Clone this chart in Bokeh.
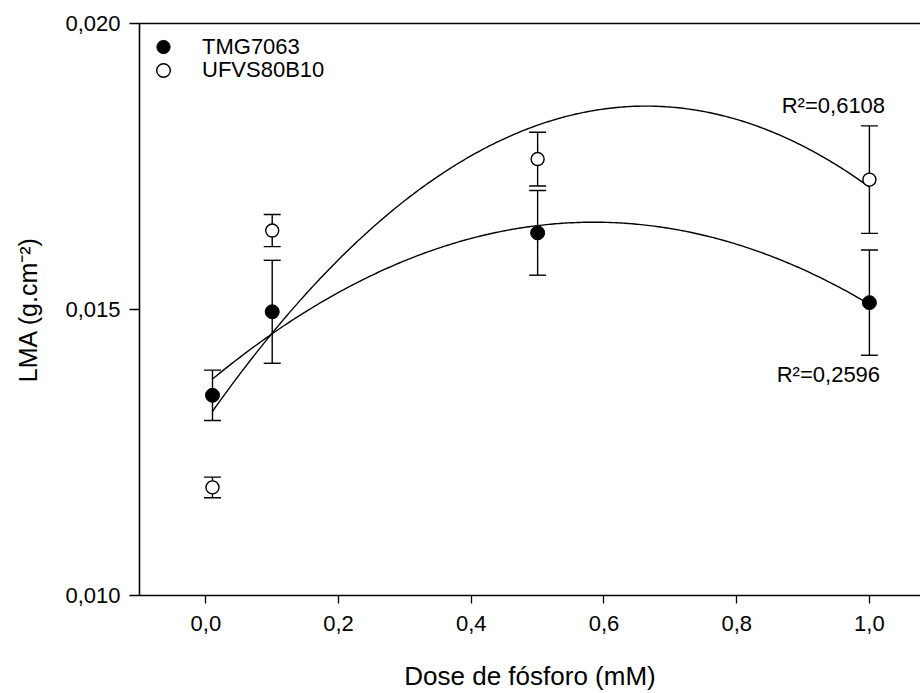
import numpy as np
from bokeh.plotting import figure
from bokeh.models import (ColumnDataSource, Whisker, TeeHead, FixedTicker, CustomJSTickFormatter,
                          LinearAxis, Legend, LegendItem, Range1d, Label)
from bokeh.embed import file_html
from bokeh.resources import INLINE

# ---- data ----
dose = [0.01, 0.1, 0.5, 1.0]
tmg_mean = [0.01350, 0.01496, 0.01634, 0.01512]
tmg_err = [0.00044, 0.00090, 0.00074, 0.00092]
ufv_mean = [0.01189, 0.01638, 0.01763, 0.01727]
ufv_err = [0.00018, 0.00028, 0.00047, 0.00094]
series_names = ["TMG7063", "UFVS80B10"]
r2_labels = ["R\u00b2=0,2596", "R\u00b2=0,6108"]
x_ticks = [0.0, 0.2, 0.4, 0.6, 0.8, 1.0]
y_ticks = [0.010, 0.015, 0.020]

FONT = "Liberation Sans"

p = figure(width=920, height=693, output_backend="svg", toolbar_location=None,
           x_range=Range1d(-0.1, 1.077), y_range=Range1d(0.010, 0.020),
           min_border_left=139, min_border_right=0, min_border_top=23, min_border_bottom=96)
p.outline_line_color = None
p.xgrid.visible = False
p.ygrid.visible = False
p.background_fill_color = "white"
p.border_fill_color = "white"

for ax, ticks, fmt in ((p.xaxis[0], x_ticks, "return tick.toFixed(1).replace('.', ',')"),
                       (p.yaxis[0], y_ticks, "return tick.toFixed(3).replace('.', ',')")):
    ax.ticker = FixedTicker(ticks=ticks)
    ax.formatter = CustomJSTickFormatter(code=fmt)
    ax.minor_tick_line_color = None
    ax.major_tick_in = 0
    ax.major_tick_line_color = "black"
    ax.major_tick_line_width = 1.3
    ax.axis_line_width = 1.6
    ax.axis_line_color = "black"
    ax.major_label_text_font = FONT
    ax.major_label_text_font_size = "22px"
    ax.major_label_text_color = "black"
    ax.axis_label_text_font = FONT
    ax.axis_label_text_font_style = "normal"
    ax.axis_label_text_color = "black"

p.xaxis[0].major_tick_out = 8
p.yaxis[0].major_tick_out = 10
p.xaxis[0].major_label_standoff = 12
p.yaxis[0].major_label_standoff = 9
p.xaxis[0].axis_label = "Dose de fósforo (mM)"
p.xaxis[0].axis_label_text_font_size = "26px"
p.xaxis[0].axis_label_standoff = 27
p.yaxis[0].axis_label = "LMA (g.cm\u207b\u00b2)"
p.yaxis[0].axis_label_text_font_size = "25px"
p.yaxis[0].axis_label_standoff = 20

top_axis = LinearAxis(ticker=FixedTicker(ticks=[]), major_tick_line_color=None,
                      minor_tick_line_color=None, major_label_text_font_size="0px",
                      axis_line_width=1.6, axis_line_color="black")
p.add_layout(top_axis, "above")

# fitted quadratic curves (least squares on the plotted means)
xx = np.linspace(min(dose), max(dose), 300)
c_tmg = np.polyfit(dose, tmg_mean, 2)
c_ufv = np.polyfit(dose, ufv_mean, 2)
p.line(xx, np.polyval(c_tmg, xx), line_color="black", line_width=1.4)
p.line(xx, np.polyval(c_ufv, xx), line_color="black", line_width=1.4)

# error bars
for mean, err in ((tmg_mean, tmg_err), (ufv_mean, ufv_err)):
    src = ColumnDataSource(dict(x=dose,
                                upper=[m + e for m, e in zip(mean, err)],
                                lower=[m - e for m, e in zip(mean, err)]))
    w = Whisker(base="x", upper="upper", lower="lower", source=src,
                line_color="black", line_width=1.4,
                upper_head=TeeHead(size=17, line_color="black", line_width=1.4),
                lower_head=TeeHead(size=17, line_color="black", line_width=1.4))
    p.add_layout(w)

r_tmg = p.scatter(dose, tmg_mean, size=14, marker="circle", fill_color="black", line_color="black")
r_ufv = p.scatter(dose, ufv_mean, size=13, marker="circle", fill_color="white", line_color="black",
                  line_width=1.4)

common = dict(location="top_left", margin=7, padding=0, spacing=0,
              glyph_width=34, label_height=20, label_standoff=22,
              label_text_font=FONT, label_text_font_size="22px", label_text_color="black",
              border_line_color=None, background_fill_alpha=0)
legend1 = Legend(items=[LegendItem(label=series_names[0], renderers=[r_tmg])],
                 glyph_height=33, **common)
legend2 = Legend(items=[LegendItem(label=series_names[1], renderers=[r_ufv])],
                 glyph_height=80, **common)
p.add_layout(legend1)
p.add_layout(legend2)

p.add_layout(Label(x=dose[-1], y=ufv_mean[-1] + ufv_err[-1], y_offset=20, x_offset=-36,
                   text=r2_labels[1], text_align="center", text_baseline="middle",
                   text_font=FONT, text_font_size="22px", text_color="black"))
p.add_layout(Label(x=dose[-1], y=tmg_mean[-1] - tmg_err[-1], y_offset=-19, x_offset=-41,
                   text=r2_labels[0], text_align="center", text_baseline="middle",
                   text_font=FONT, text_font_size="22px", text_color="black"))

open("out.html", "w").write(file_html(p, INLINE))
